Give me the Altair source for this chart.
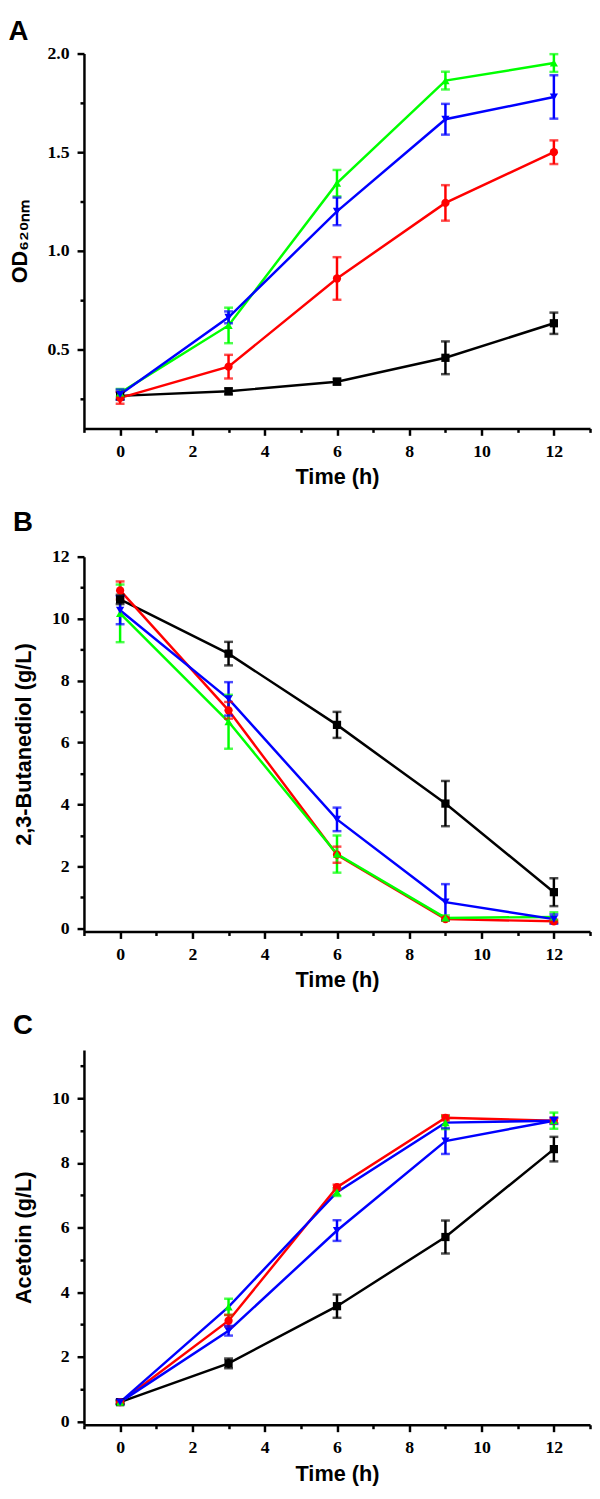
import altair as alt
import pandas as pd

# ---------------- data ----------------
times = [0, 3, 6, 9, 12]
series_names = ["black", "red", "green", "blue"]

# Panel A: OD620nm
od_black = [0.265, 0.288, 0.337, 0.458, 0.633]
od_black_err = [0.02, 0.015, 0.015, 0.083, 0.054]
od_red = [0.255, 0.413, 0.86, 1.243, 1.50]
od_red_err = [0.03, 0.06, 0.108, 0.09, 0.06]
od_green = [0.28, 0.622, 1.343, 1.863, 1.952]
od_green_err = [0.02, 0.09, 0.067, 0.045, 0.045]
od_blue = [0.272, 0.663, 1.20, 1.667, 1.78]
od_blue_err = [0.025, 0.03, 0.07, 0.078, 0.11]

# Panel B: 2,3-Butanediol (g/L)
bdo_black = [10.62, 8.87, 6.57, 4.03, 1.17]
bdo_black_err = [0.15, 0.38, 0.42, 0.73, 0.45]
bdo_red = [10.91, 7.04, 2.38, 0.30, 0.23]
bdo_red_err = [0.29, 0.27, 0.26, 0.05, 0.05]
bdo_green = [10.17, 6.67, 2.40, 0.34, 0.37]
bdo_green_err = [0.93, 0.87, 0.60, 0.08, 0.15]
bdo_blue = [10.27, 7.41, 3.52, 0.85, 0.30]
bdo_blue_err = [0.45, 0.54, 0.38, 0.58, 0.15]

# Panel C: Acetoin (g/L)
ace_black = [0.60, 1.80, 3.57, 5.71, 8.43]
ace_black_err = [0.05, 0.15, 0.36, 0.51, 0.38]
ace_red = [0.60, 3.12, 7.25, 9.40, 9.31]
ace_red_err = [0.05, 0.18, 0.08, 0.08, 0.08]
ace_green = [0.60, 3.55, 7.10, 9.25, 9.31]
ace_green_err = [0.05, 0.25, 0.12, 0.20, 0.25]
ace_blue = [0.60, 2.81, 5.91, 8.68, 9.31]
ace_blue_err = [0.08, 0.15, 0.32, 0.40, 0.10]

# ---------------- styles ----------------
marker_color = {"black": "#000000", "red": "#FF0000", "green": "#00FF00", "blue": "#0000FF"}
shapes = ["square", "circle", "triangle-up", "triangle-down"]


def build_df(vals, errs, line_override=None):
    rows = []
    for s, v, e in zip(series_names, vals, errs):
        for t, yv, ev in zip(times, v, e):
            lc = marker_color[s]
            if line_override and s in line_override:
                lc = line_override[s]
            rows.append({"series": s, "t": t, "y": yv, "lo": yv - ev, "hi": yv + ev,
                         "mc": marker_color[s], "lc": lc})
    return pd.DataFrame(rows)


dfA = build_df([od_black, od_red, od_green, od_blue],
               [od_black_err, od_red_err, od_green_err, od_blue_err])
dfB = build_df([bdo_black, bdo_red, bdo_green, bdo_blue],
               [bdo_black_err, bdo_red_err, bdo_green_err, bdo_blue_err])
# in the original panel C the green series' line is drawn in blue
dfC = build_df([ace_black, ace_red, ace_green, ace_blue],
               [ace_black_err, ace_red_err, ace_green_err, ace_blue_err],
               line_override={"green": "#0000FF"})

x_all = list(range(-1, 14))

W, H = 513, 380


def panel(df, letter, ytitle, domain, y_major, y_minor, fmt, title_offset):
    y_all = sorted(y_major + y_minor)
    major_list = "[" + ",".join(str(v) for v in y_major) + "]"
    x_axis = alt.Axis(
        values=x_all,
        labelExpr="datum.value % 2 == 0 ? format(datum.value, 'd') : ''",
        tickSize={"condition": {"test": "datum.value % 2 == 0", "value": 7}, "value": 4},
        title="Time (h)", titlePadding=7, labelPadding=7,
    )
    y_axis = alt.Axis(
        values=y_all,
        labelExpr=f"indexof({major_list}, datum.value) >= 0 ? format(datum.value, '{fmt}') : ''",
        tickSize={"condition": {"test": f"indexof({major_list}, datum.value) >= 0", "value": 7}, "value": 4},
        title=ytitle, titlePadding=16, labelPadding=8,
    )
    xs = alt.Scale(domain=[-1, 13], nice=False, zero=False)
    ys = alt.Scale(domain=domain, nice=False, zero=False)
    base = alt.Chart(df)
    X = alt.X("t:Q", scale=xs, axis=x_axis)
    mc = alt.Color("mc:N", scale=None)

    lines = base.mark_line(strokeWidth=2.5).encode(
        x=X, y=alt.Y("y:Q", scale=ys, axis=y_axis),
        color=alt.Color("lc:N", scale=None), detail="series:N", order="t:Q")
    bars = base.mark_rule(strokeWidth=2.5).encode(
        x=X, y=alt.Y("lo:Q", scale=ys, axis=y_axis), y2="hi:Q", color=mc, detail="series:N")
    cap_lo = base.mark_tick(orient="horizontal", size=9, thickness=2.5).encode(
        x=X, y=alt.Y("lo:Q", scale=ys, axis=y_axis), color=mc)
    cap_hi = base.mark_tick(orient="horizontal", size=9, thickness=2.5).encode(
        x=X, y=alt.Y("hi:Q", scale=ys, axis=y_axis), color=mc)
    pts = base.mark_point(filled=True, size=70, opacity=1).encode(
        x=X, y=alt.Y("y:Q", scale=ys, axis=y_axis), color=mc,
        shape=alt.Shape("series:N", scale=alt.Scale(domain=series_names, range=shapes), legend=None))

    return alt.layer(lines, bars, cap_lo, cap_hi, pts).properties(
        width=W, height=H,
        title=alt.TitleParams(letter, anchor="start", frame="bounds", fontSize=28,
                              font="Liberation Sans", fontWeight="bold", baseline="top",
                              offset=title_offset),
    )


pA = panel(dfA, "A", "OD₆₂₀ₙₘ", [0.1, 2.0], [0.5, 1.0, 1.5, 2.0], [0.25, 0.75, 1.25, 1.75], ".1f", -1)
pB = panel(dfB, "B", "2,3-Butanediol (g/L)", [-0.1, 12], [0, 2, 4, 6, 8, 10, 12], [1, 3, 5, 7, 9, 11], "d", 11)
pC = panel(dfC, "C", "Acetoin (g/L)", [-0.1, 11.5], [0, 2, 4, 6, 8, 10], [1, 3, 5, 7, 9, 11], "d", 10)

chart = alt.vconcat(pA, pB, pC, spacing=22).properties(
    padding=0
).configure(background="white").configure_view(
    stroke=None
).configure_axis(
    grid=False, domainColor="black", domainWidth=2.5, tickColor="black", tickWidth=2.5,
    labelFont="Liberation Serif", labelFontWeight="bold", labelFontSize=18, labelColor="black",
    titleFont="Liberation Sans", titleFontWeight="bold", titleFontSize=22, titleColor="black",
)

chart.save("out.html", embed_options={"renderer": "svg", "actions": False})
